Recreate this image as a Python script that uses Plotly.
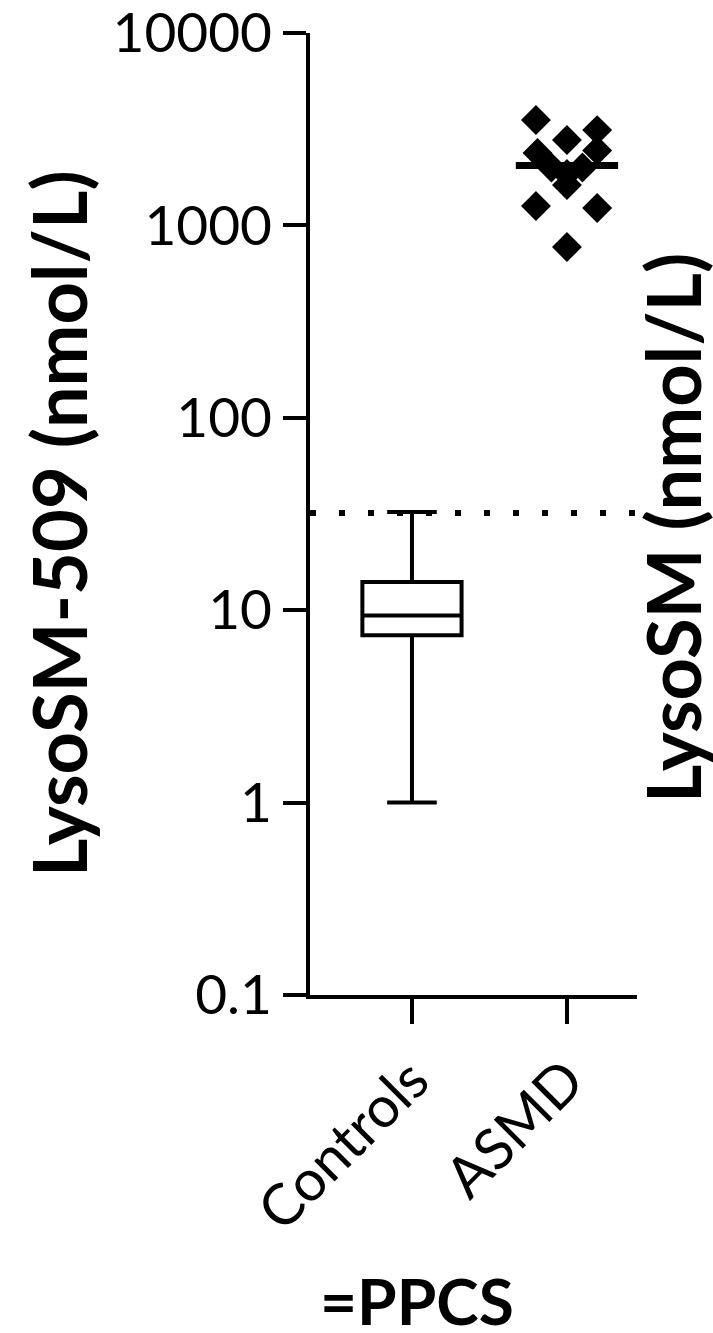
import plotly.graph_objects as go

# ---- data ----
categories = ["Controls", "ASMD"]
y_tick_values = [0.1, 1, 10, 100, 1000, 10000]
y_tick_labels = ["0.1", "1", "10", "100", "1000", "10000"]

# Controls box-plot statistics (nmol/L)
controls_lower = 1.0
controls_q1 = 7.4
controls_median = 9.4
controls_q3 = 14.0
controls_upper = 32.4

# ASMD individual values (nmol/L) and their horizontal jitter around the category
asmd_values = [3530, 3130, 2780, 2380, 2450, 2000, 2000, 1850, 1620, 1262, 1231, 772]
asmd_jitter = [-0.20, 0.195, 0.0, -0.19, 0.195, -0.10, 0.10, 0.0, 0.0, -0.20, 0.195, 0.0]
asmd_center = 2050

cutoff = 32

W, H = 713, 1333
ML, MR, MT, MB = 310, 76, 33, 338
PW, PH = W - ML - MR, H - MT - MB


def px(x):
    return (x - ML) / PW


def py(y):
    return (H - MB - y) / PH


FONT = "Lato"
LW = 4

fig = go.Figure()

fig.add_trace(go.Box(
    x=[0], q1=[controls_q1], median=[controls_median], q3=[controls_q3],
    lowerfence=[controls_lower], upperfence=[controls_upper],
    width=0.64, whiskerwidth=0.5, boxpoints=False,
    line=dict(color="black", width=LW), fillcolor="white", showlegend=False,
))

fig.add_trace(go.Scatter(
    x=[1 + j for j in asmd_jitter], y=asmd_values, mode="markers",
    marker=dict(symbol="diamond", size=23, color="black", line=dict(width=0)),
    showlegend=False, cliponaxis=False,
))

fig.add_trace(go.Scatter(
    x=[1 - 0.33, 1 + 0.33], y=[asmd_center, asmd_center], mode="lines",
    line=dict(color="black", width=7), showlegend=False,
))

fig.add_shape(type="line", xref="paper", yref="y", x0=0, x1=px(642),
              y0=cutoff, y1=cutoff,
              line=dict(color="black", width=6, dash="6px,23px"))

fig.update_layout(
    width=W, height=H,
    margin=dict(l=ML, r=MR, t=MT, b=MB, pad=0, autoexpand=False),
    paper_bgcolor="white", plot_bgcolor="white",
    font=dict(family=FONT, color="black"),
    xaxis=dict(
        range=[-0.658, 1.452], tickvals=[0, 1], ticktext=categories,
        tickangle=-45, ticks="outside", ticklen=25, tickwidth=LW, tickcolor="black",
        showline=True, linewidth=LW, linecolor="black", showgrid=False, zeroline=False,
        tickfont=dict(family=FONT, size=57, color="black"),
        ticklabeloverflow="allow", automargin=False,
    ),
    yaxis=dict(
        type="log", range=[-1, 4.0002], tickvals=y_tick_values, ticktext=y_tick_labels,
        ticks="outside", ticklen=23, tickwidth=LW, tickcolor="black",
        showline=True, linewidth=LW, linecolor="black", showgrid=False, zeroline=False,
        tickfont=dict(family=FONT, size=55, color="black"),
        ticklabeloverflow="allow", automargin=False,
    ),
    annotations=[
        dict(text="LysoSM-509 (nmol/L)", xref="paper", yref="paper",
             x=px(58), y=py(524), textangle=-90, showarrow=False,
             xanchor="center", yanchor="middle",
             font=dict(family=FONT, size=74, weight="bold", color="black")),
        dict(text="LysoSM (nmol/L)", xref="paper", yref="paper",
             x=px(672), y=py(528), textangle=-90, showarrow=False,
             xanchor="center", yanchor="middle",
             font=dict(family=FONT, size=74, weight="bold", color="black")),
        dict(text="=PPCS", xref="paper", yref="paper",
             x=px(417), y=py(1300), showarrow=False,
             xanchor="center", yanchor="middle",
             font=dict(family=FONT, size=64, weight="bold", color="black")),
    ],
)

fig.write_html("out.html")
